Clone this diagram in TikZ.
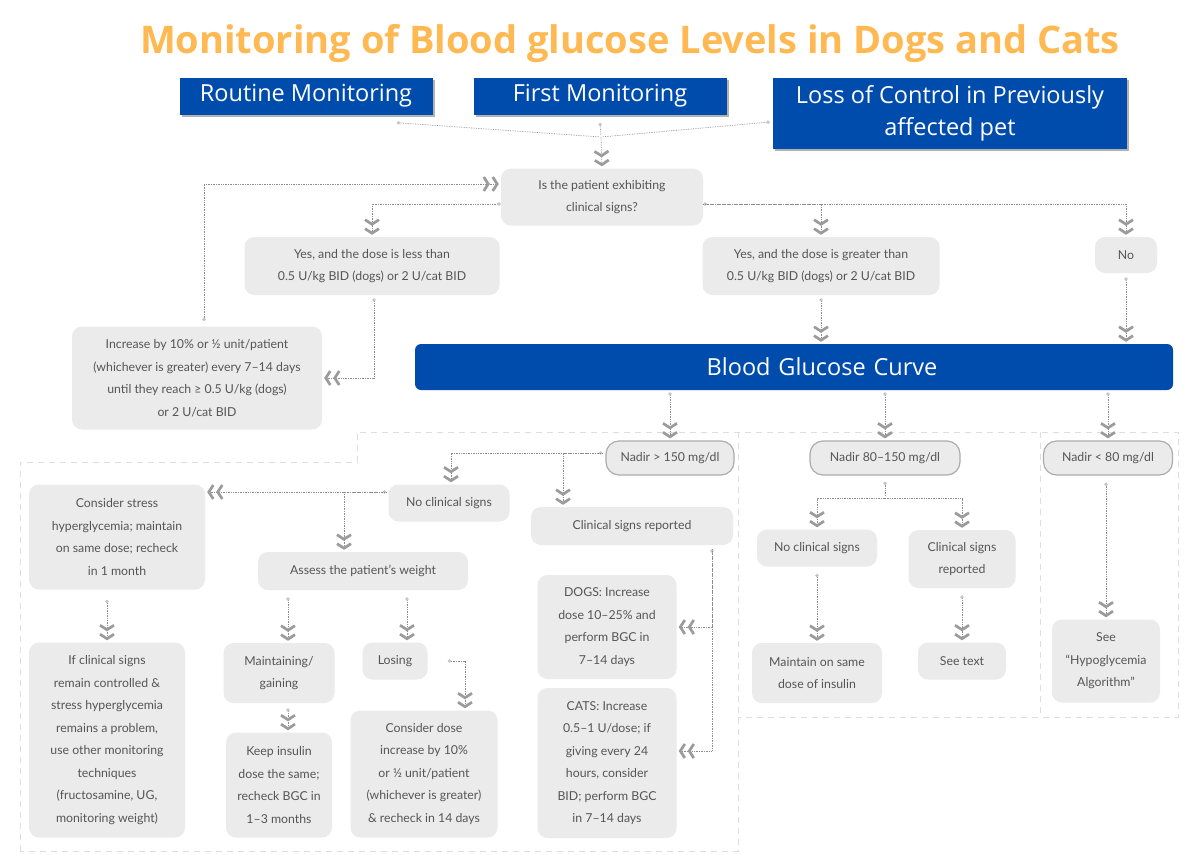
\documentclass[tikz,border=0pt]{standalone}
\usepackage{fontspec}
\setmainfont{Lato}
\newfontfamily\headfont{Open Sans}
\usetikzlibrary{arrows.meta,shadows,positioning}

\definecolor{titleorange}{RGB}{255,185,82}
\definecolor{navy}{RGB}{0,76,172}
\definecolor{boxgray}{RGB}{235,235,236}
\definecolor{textgray}{RGB}{85,85,85}
\definecolor{linegray}{RGB}{140,140,140}
\definecolor{chevgray}{RGB}{155,155,155}
\definecolor{dashgray}{RGB}{222,222,222}

\tikzset{
  chevtip/.tip={Straight Barb[length=4.5pt,width=14pt,line width=2.7pt,color=chevgray,sep=1.5pt]
                Straight Barb[length=4.5pt,width=14pt,line width=2.7pt,color=chevgray]},
  dottip/.tip={Circle[length=3.5pt,color=gray!45]},
}

\begin{document}
\begin{tikzpicture}[
    x=1pt, y=-1pt,
    every node/.style = {inner sep=0pt},
    box/.style 2 args = {fill=boxgray, rounded corners=10pt, text=textgray, align=center,
        font=\fontsize{12.3}{22.5}\selectfont, minimum width=#1, minimum height=#2},
    nadir/.style = {box={#1}{34}, draw=gray!65, line width=1.2pt, rounded corners=13pt},
    bluebox/.style 2 args = {fill=navy, text=white, align=center,
        font=\headfont\fontsize{23.5}{32}\selectfont, minimum width=#1, minimum height=#2,
        drop shadow={shadow xshift=2pt, shadow yshift=-2pt, fill=black!30, opacity=1}},
    link/.style = {draw=linegray, densely dotted, line width=0.7pt, shorten >=2pt},
    region/.style = {draw=dashgray, dash pattern=on 6pt off 5pt, line width=1pt}]

    \fill[white] (0,0) rectangle (1199,854);
    \useasboundingbox (0,0) rectangle (1199,854);

    % title and entry points
    \node[font=\headfont\bfseries\fontsize{38}{42}\selectfont, text=titleorange] (title) at (630,44)
        {Monitoring of Blood glucose Levels in Dogs and Cats};
    \node[bluebox={253}{37}] (routine) at (306,96) {Routine Monitoring};
    \node[bluebox={253}{37}] (first) at (600,96) {First Monitoring};
    \node[bluebox={354}{71}] (loss) at (950,113) {Loss of Control in Previously\\affected pet};

    % dashed regions
    \draw[region] (20,851) -- (20,462) -- (357,462) -- (357,432) -- (1178,432) -- (1178,717) -- (738,717);
    \draw[region] (738,432) -- (738,851) -- (20,851);
    \draw[region] (1040,432) -- (1040,717);

    % upper part
    \node[box={202}{57}] (ask) at (602,197) {Is the patient exhibiting\\clinical signs?};
    \node[box={255}{58}] (yesless) at (372,266) {Yes, and the dose is less than\\0.5 U/kg BID (dogs) or 2 U/cat BID};
    \node[box={237}{58}] (yesmore) at (821,266) {Yes, and the dose is greater than\\0.5 U/kg BID (dogs) or 2 U/cat BID};
    \node[box={62}{36}] (no) at (1126,255) {No};
    \node[box={250}{103}] (incr) at (197,378) {Increase by 10\% or ½ unit/patient\\(whichever is greater) every 7–14 days\\until they reach ≥ 0.5 U/kg (dogs)\\or 2 U/cat BID};
    \node[fill=navy, rounded corners=6pt, minimum width=758, minimum height=46, text=white,
        text width=740, align=center,
        font=\headfont\fontsize{23.5}{26}\selectfont] (bgc) at (794,367) {\hspace*{56pt}Blood Glucose Curve};

    % nadir levels
    \node[nadir=128] (nhigh) at (670,458) {Nadir > 150 mg/dl};
    \node[nadir=150] (nmid) at (885,458) {Nadir 80–150 mg/dl};
    \node[nadir=129] (nlow) at (1108,458) {Nadir < 80 mg/dl};

    % nadir > 150
    \node[box={121}{37}] (ncs) at (449,503) {No clinical signs};
    \node[box={202}{38}] (csr) at (632,526) {Clinical signs reported};
    \node[box={176}{105}] (stress) at (117,537) {Consider stress\\hyperglycemia; maintain\\on same dose; recheck\\in 1 month};
    \node[box={210}{38}] (weight) at (363,571) {Assess the patient’s weight};
    \node[box={156}{195}] (ifcs) at (107,740) {If clinical signs\\remain controlled \&\\stress hyperglycemia\\remains a problem,\\use other monitoring\\techniques\\(fructosamine, UG,\\monitoring weight)};
    \node[box={111}{60}] (maint) at (279,673) {Maintaining/\\gaining};
    \node[box={65}{37}] (losing) at (395,661) {Losing};
    \node[box={106}{105}] (keep) at (279,785) {Keep insulin\\dose the same;\\recheck BGC in\\1–3 months};
    \node[box={147}{127}] (consdose) at (424,774) {Consider dose\\increase by 10\%\\or ½ unit/patient\\(whichever is greater)\\\& recheck in 14 days};
    \node[box={139}{104}] (dogs) at (607,627) {DOGS: Increase\\dose 10–25\% and\\perform BGC in\\7–14 days};
    \node[box={139}{150}] (cats) at (607,763) {CATS: Increase\\0.5–1 U/dose; if\\giving every 24\\hours, consider\\BID; perform BGC\\in 7–14 days};

    % nadir 80-150 and < 80
    \node[box={120}{37}] (ncsb) at (817,548) {No clinical signs};
    \node[box={107}{58}] (csrb) at (962,559) {Clinical signs\\reported};
    \node[box={130}{60}] (same) at (817,673) {Maintain on same\\dose of insulin};
    \node[box={88}{37}] (seetext) at (962,661) {See text};
    \node[box={108}{83}] (hypo) at (1106,661) {See\\“Hypoglycemia\\Algorithm”};

    % connectors
    \coordinate (topjoin) at (601,137);
    \draw[link, dottip-] ([xshift=-36pt,yshift=-8pt]routine.south east) -- (topjoin);
    \draw[link, dottip-] ([yshift=-8pt]first.south) -- (topjoin);
    \draw[link, dottip-] ([xshift=-3pt,yshift=-9pt]loss.west) -- (topjoin);
    \draw[link, -chevtip] (topjoin) -- (ask.north);

    \draw[link, dottip-chevtip] ([yshift=-7pt]ask.west) -| (yesless.north);
    \draw[link, dottip-chevtip] ([yshift=-7pt]ask.east) -| (no.north);
    \draw[link, -chevtip] ([yshift=-7pt]ask.east) -| (yesmore.north);
    \draw[link, dottip-chevtip] ([xshift=2pt,yshift=-3pt]yesless.south) |- (incr.east);
    \draw[link, dottip-chevtip] ([xshift=7pt,yshift=5pt]incr.north) |- ([yshift=13pt]ask.west);
    \draw[link, dottip-chevtip] ([yshift=-3pt]yesmore.south) -- (yesmore.south |- bgc.north);
    \draw[link, dottip-chevtip] ([yshift=-4pt]no.south) -- (no.south |- bgc.north);

    \draw[link, dottip-chevtip] ([yshift=-2pt]bgc.south -| nhigh.north) -- (nhigh.north);
    \draw[link, dottip-chevtip] ([yshift=-2pt]bgc.south -| nmid.north) -- (nmid.north);
    \draw[link, dottip-chevtip] ([yshift=-2pt]bgc.south -| nlow.north) -- (nlow.north);

    \draw[link, dottip-chevtip] ([xshift=-3pt,yshift=5pt]nhigh.west) -| ([xshift=2pt]ncs.north);
    \draw[link, -chevtip] ([xshift=-3pt,yshift=5pt]nhigh.west) -| ([xshift=-69pt]csr.north);
    \draw[link, dottip-chevtip] ([xshift=-2pt,yshift=11pt]ncs.west) -- ([yshift=11pt]ncs.west -| stress.east);
    \draw[link, -chevtip] ([xshift=-2pt,yshift=11pt]ncs.west) -| ([xshift=-19pt]weight.north);
    \draw[link, dottip-chevtip] ([yshift=-10pt]ifcs.north |- stress.south) -- (ifcs.north);
    \draw[link, dottip-chevtip] ([xshift=9pt,yshift=-7pt]maint.north |- weight.south) -- ([xshift=9pt]maint.north);
    \draw[link, dottip-chevtip] ([xshift=12pt,yshift=-7pt]losing.north |- weight.south) -- ([xshift=12pt]losing.north);
    \draw[link, dottip-chevtip] ([xshift=9pt,yshift=-5pt]maint.south) -- ([xshift=9pt]keep.north);
    \draw[link, dottip-chevtip] ([xshift=20pt]losing.east) -| ([xshift=41pt]consdose.north);
    \draw[link, dottip-chevtip] ([xshift=80pt,yshift=-4pt]csr.south) |- (dogs.east);
    \draw[link, -chevtip] ([xshift=80pt,yshift=-4pt]csr.south) |- ([yshift=12pt]cats.east);

    \draw[link, dottip-] ([yshift=-6pt]nmid.south) -- ++(0,17) coordinate (midjoin);
    \draw[link, -chevtip] (midjoin) -| (ncsb.north);
    \draw[link, -chevtip] (midjoin) -| (csrb.north);
    \draw[link, dottip-chevtip] ([yshift=-7pt]ncsb.south) -- (same.north);
    \draw[link, dottip-chevtip] ([yshift=-7pt]csrb.south) -- (seetext.north);
    \draw[link, dottip-chevtip] ([yshift=-7pt]nlow.south -| hypo.north) -- (hypo.north);
\end{tikzpicture}
\end{document}
